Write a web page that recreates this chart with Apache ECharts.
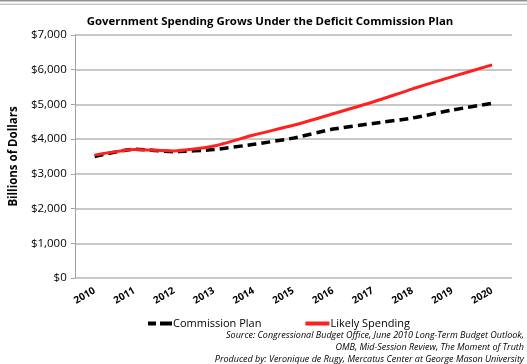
<!DOCTYPE html>
<html><head><meta charset="utf-8">
<script src="https://cdn.jsdelivr.net/npm/echarts@6/dist/echarts.min.js"></script>
<style>html,body{margin:0;padding:0;background:#fff}#c{width:527px;height:364px}</style>
</head><body><div id="c"></div>
<script>
const years = ['2010','2011','2012','2013','2014','2015','2016','2017','2018','2019','2020'];
const commissionPlan = [3500, 3710, 3640, 3700, 3850, 4030, 4290, 4450, 4610, 4840, 5030];
const likelySpending = [3540, 3700, 3660, 3800, 4120, 4400, 4730, 5070, 5450, 5800, 6140];
const yTicks = [0, 1000, 2000, 3000, 4000, 5000, 6000, 7000];
const FONT = '"Open Sans", "Noto Sans", sans-serif';

const chart = echarts.init(document.getElementById('c'));
chart.setOption({
  animation: false,
  backgroundColor: '#fff',
  title: {
    text: 'Government Spending Grows Under the Deficit Commission Plan',
    left: 265, top: 11, textAlign: 'center',
    textStyle: {fontFamily: FONT, fontSize: 11.4, fontWeight: 'bold', color: '#000'}
  },
  grid: {left: 63, right: 15, top: 35, bottom: 86, containLabel: false},
  legend: {
    top: 313, left: 143, itemGap: 44, itemWidth: 24, itemHeight: 4,
    textStyle: {fontFamily: FONT, fontSize: 11, color: '#000', padding: [0,0,0,-4]},
    data: [
      {name: 'Commission Plan', icon: 'path://M0,0 L8,0 L8,4 L0,4 Z M12,0 L24,0 L24,4 L12,4 Z', itemStyle: {color: '#000'}},
      {name: 'Likely Spending', icon: 'rect', itemStyle: {color: '#ff2020'}}
    ]
  },
  xAxis: {
    type: 'category', data: years, boundaryGap: true,
    axisLine: {show: false}, axisTick: {show: false},
    axisLabel: {rotate: 30, fontFamily: FONT, fontSize: 10, fontWeight: 'bold', color: '#000', margin: 12, interval: 0}
  },
  yAxis: {
    type: 'value', min: yTicks[0], max: yTicks[yTicks.length-1], interval: 1000,
    name: 'Billions of Dollars', nameLocation: 'middle', nameGap: 50, nameRotate: 90,
    nameTextStyle: {fontFamily: FONT, fontSize: 11.5, fontWeight: 'bold', color: '#000'},
    axisLine: {show: true, lineStyle: {color: '#a0a0a0', width: 1}},
    axisTick: {show: true, inside: false, length: 4, lineStyle: {color: '#a0a0a0'}},
    splitLine: {lineStyle: {color: '#c8c8c8', width: 2}},
    axisLabel: {fontFamily: FONT, fontSize: 11.5, color: '#000', margin: 8,
      formatter: v => '$' + v.toLocaleString('en-US')}
  },
  series: [
    {name: 'Commission Plan', type: 'line', data: commissionPlan, showSymbol: false, smooth: 0.2,
     lineStyle: {color: '#000', width: 3.5, type: [9, 5]}, itemStyle: {color: '#000'}, z: 2},
    {name: 'Likely Spending', type: 'line', data: likelySpending, showSymbol: false, smooth: 0.2,
     lineStyle: {color: '#ff2020', width: 3}, itemStyle: {color: '#ff2020'}, z: 3}
  ],
  graphic: [
    {type: 'rect', shape: {x: 0, y: 0, width: 527, height: 1.5}, style: {fill: '#909090'}, silent: true},
    {type: 'rect', shape: {x: 0, y: 3.5, width: 527, height: 1.5}, style: {fill: '#c8c8c8'}, silent: true},
    {type: 'text', right: 3, top: 331, style: {text: 'Source: Congressional Budget Office, June 2010 Long-Term Budget Outlook,', font: 'italic 9px ' + FONT, fill: '#000', textAlign: 'right'}},
    {type: 'text', right: 3, top: 343, style: {text: 'OMB, Mid-Session Review, The Moment of Truth', font: 'italic 9px ' + FONT, fill: '#000', textAlign: 'right'}},
    {type: 'text', right: 3, top: 355, style: {text: 'Produced by: Veronique de Rugy, Mercatus Center at George Mason University', font: 'italic 9px ' + FONT, fill: '#000', textAlign: 'right'}}
  ]
});
</script></body></html>
